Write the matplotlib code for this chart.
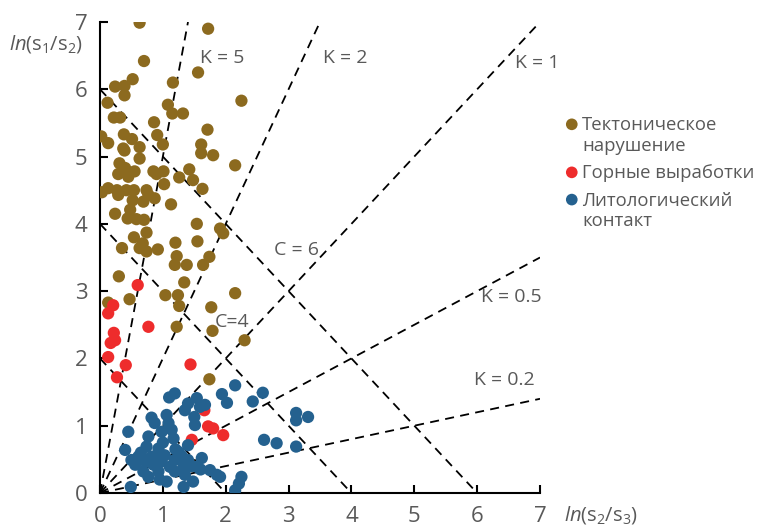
import matplotlib
matplotlib.use("Agg")
import matplotlib.pyplot as plt
import numpy as np

plt.rcParams['font.family'] = ['Open Sans', 'DejaVu Sans']
plt.rcParams['mathtext.fontset'] = 'custom'
plt.rcParams['mathtext.rm'] = 'Open Sans'
plt.rcParams['mathtext.it'] = 'Open Sans:italic'

# ---- data ----
tect_x = [0.63, 1.72, 0.70, 1.56, 0.52, 1.16, 0.24, 0.39, 0.39, 2.25, 0.12, 1.08, 1.15, 1.32, 0.22, 0.32,
          0.86, 1.71, 0.02, 0.38, 0.91, 0.51, 0.13, 1.00, 1.61, 0.37, 0.63, 0.39, 1.61, 1.80, 0.63, 2.15,
          0.31, 0.40, 0.55, 0.29, 0.85, 1.01, 1.42, 1.26, 1.48, 0.90, 0.45, 1.02, 1.63, 0.13, 0.03, 0.27,
          0.29, 0.54, 0.74, 0.77, 0.87, 0.52, 0.69, 1.13, 0.48, 0.24, 0.44, 0.58, 0.70, 1.54, 1.91, 1.96,
          0.74, 0.54, 1.55, 0.35, 0.63, 0.68, 0.74, 0.92, 1.20, 1.74, 1.22, 1.38, 1.64, 1.19, 0.30, 1.34,
          1.04, 1.24, 2.15, 0.47, 0.13, 1.26, 1.77, 1.22, 1.79, 2.30, 1.74, 0.42]
tect_y = [6.99, 6.90, 6.42, 6.25, 6.15, 6.10, 6.04, 6.05, 5.91, 5.83, 5.80, 5.77, 5.64, 5.64, 5.58, 5.58,
          5.51, 5.40, 5.30, 5.33, 5.32, 5.26, 5.20, 5.18, 5.18, 5.12, 5.14, 5.09, 5.05, 5.02, 4.97, 4.87,
          4.90, 4.83, 4.78, 4.74, 4.78, 4.78, 4.81, 4.69, 4.65, 4.74, 4.70, 4.59, 4.52, 4.53, 4.47, 4.50,
          4.43, 4.50, 4.50, 4.43, 4.38, 4.35, 4.33, 4.29, 4.21, 4.15, 4.08, 4.07, 4.06, 4.00, 3.93, 3.86,
          3.87, 3.80, 3.74, 3.64, 3.64, 3.71, 3.59, 3.62, 3.72, 3.51, 3.52, 3.39, 3.39, 3.39, 3.22, 3.13,
          2.94, 2.94, 2.97, 2.88, 2.83, 2.78, 2.76, 2.47, 2.41, 2.27, 1.69, 4.50]

mine_x = [0.60, 0.21, 0.13, 0.77, 0.22, 0.17, 0.24, 0.13, 0.41, 0.27, 1.44, 1.66, 1.72, 1.80, 1.96, 1.46]
mine_y = [3.09, 2.79, 2.67, 2.47, 2.38, 2.23, 2.27, 2.02, 1.90, 1.72, 1.91, 1.23, 0.99, 0.96, 0.86, 0.79]

lith_x = [2.15, 1.19, 1.10, 1.54, 1.40, 1.59, 1.35, 1.50, 0.82, 1.06, 0.87, 1.09, 0.45, 1.14, 0.98, 1.51,
          0.77, 1.17, 1.40, 0.40, 0.74, 0.93, 1.25, 0.61, 0.82, 1.03, 0.50, 0.72, 0.98, 1.19, 1.40, 1.62,
          0.56, 0.85, 1.11, 1.33, 1.54, 1.75, 0.69, 0.93, 1.19, 1.35, 1.86, 0.77, 1.06, 1.48, 0.49, 1.33,
          2.59, 1.94, 2.02, 2.43, 1.67, 3.12, 3.31, 3.12, 2.61, 2.81, 3.12, 1.91, 2.25, 2.21, 2.15,
          0.90, 1.00, 1.20, 0.65, 1.30, 1.45, 1.60, 0.95]
lith_y = [1.60, 1.48, 1.42, 1.41, 1.33, 1.28, 1.23, 1.13, 1.12, 1.16, 1.04, 1.04, 0.91, 0.94, 0.91, 1.01,
          0.84, 0.81, 0.71, 0.64, 0.69, 0.66, 0.61, 0.54, 0.54, 0.56, 0.49, 0.47, 0.47, 0.49, 0.49, 0.52,
          0.42, 0.42, 0.39, 0.39, 0.39, 0.34, 0.32, 0.32, 0.32, 0.27, 0.27, 0.24, 0.17, 0.17, 0.09, 0.09,
          1.49, 1.47, 1.34, 1.36, 1.31, 1.19, 1.13, 1.08, 0.79, 0.74, 0.69, 0.24, 0.24, 0.14, 0.04,
          0.55, 0.75, 0.65, 0.60, 0.55, 0.40, 0.35, 0.20]

k_values = [5, 2, 1, 0.5, 0.2]
c_values = [2, 4, 6]
k_labels = ["K = 5", "K = 2", "K = 1", "K = 0.5", "K = 0.2"]
k_label_pos = [(1.94, 6.47), (3.9, 6.47), (6.96, 6.39), (6.55, 2.91), (6.44, 1.68)]
c_labels = ["C = 6", "C=4"]
c_label_pos = [(3.13, 3.61), (2.1, 2.54)]

series_names = ["Тектоническое\nнарушение", "Горные выработки", "Литологический\nконтакт"]
colors = ["#8c6a1f", "#ee2c2c", "#24618f"]
ticks = [0, 1, 2, 3, 4, 5, 6, 7]

# ---- figure ----
fig = plt.figure(figsize=(7.61, 5.28), dpi=100)
ax = fig.add_axes([100/761, 35/528, 440/761, 471/528])
ax.set_xlim(0, 7)
ax.set_ylim(0, 7)

dash = dict(color='black', lw=1.3, dashes=(5, 3.5), zorder=1)
for k in k_values:
    xe = min(7.0, 7.0 / k)
    ax.plot([0, xe], [0, k * xe], **dash)
for c in c_values:
    ax.plot([0, c], [c, 0], **dash)

ms = 78
h1 = ax.scatter(tect_x, tect_y, s=ms, color=colors[0], edgecolors='none', zorder=3)
h2 = ax.scatter(mine_x, mine_y, s=ms, color=colors[1], edgecolors='none', zorder=3)
h3 = ax.scatter(lith_x, lith_y, s=ms, color=colors[2], edgecolors='none', zorder=4)

gray = '#595959'
for lab, (x, y) in zip(k_labels, k_label_pos):
    ax.text(x, y, lab, color=gray, fontsize=14, ha='center', va='center', zorder=5, clip_on=False)
for lab, (x, y) in zip(c_labels, c_label_pos):
    ax.text(x, y, lab, color=gray, fontsize=14, ha='center', va='center', zorder=5)

for s in ['top', 'right']:
    ax.spines[s].set_visible(False)
for s in ['left', 'bottom']:
    ax.spines[s].set_linewidth(1.5)
ax.set_xticks(ticks)
ax.set_yticks(ticks)
ax.tick_params(direction='in', length=6, width=1.5, labelsize=16, labelcolor=gray, pad=9)

ax.text(-0.27, 6.67, r'$\mathit{ln}(\mathrm{s}_1/\mathrm{s}_2)$', fontsize=14.5, color=gray,
        ha='right', va='center', clip_on=False)
ax.text(7.38, -0.33, r'$\mathit{ln}(\mathrm{s}_2/\mathrm{s}_3)$', fontsize=14.5, color=gray,
        ha='left', va='center', clip_on=False)

leg = fig.legend([h1, h2, h3], series_names, loc='upper left',
                 bbox_to_anchor=(557/761, 1 - 107/528), frameon=False, fontsize=13.3,
                 handlelength=0.6, handletextpad=0.25, labelspacing=0.5, borderpad=0,
                 labelcolor=gray, scatterpoints=1, markerscale=0.95)
try:
    for col in leg._legend_handle_box.get_children():
        for row in col.get_children():
            row.align = 'top'
except Exception:
    pass

fig.savefig('out.png', dpi=100)
